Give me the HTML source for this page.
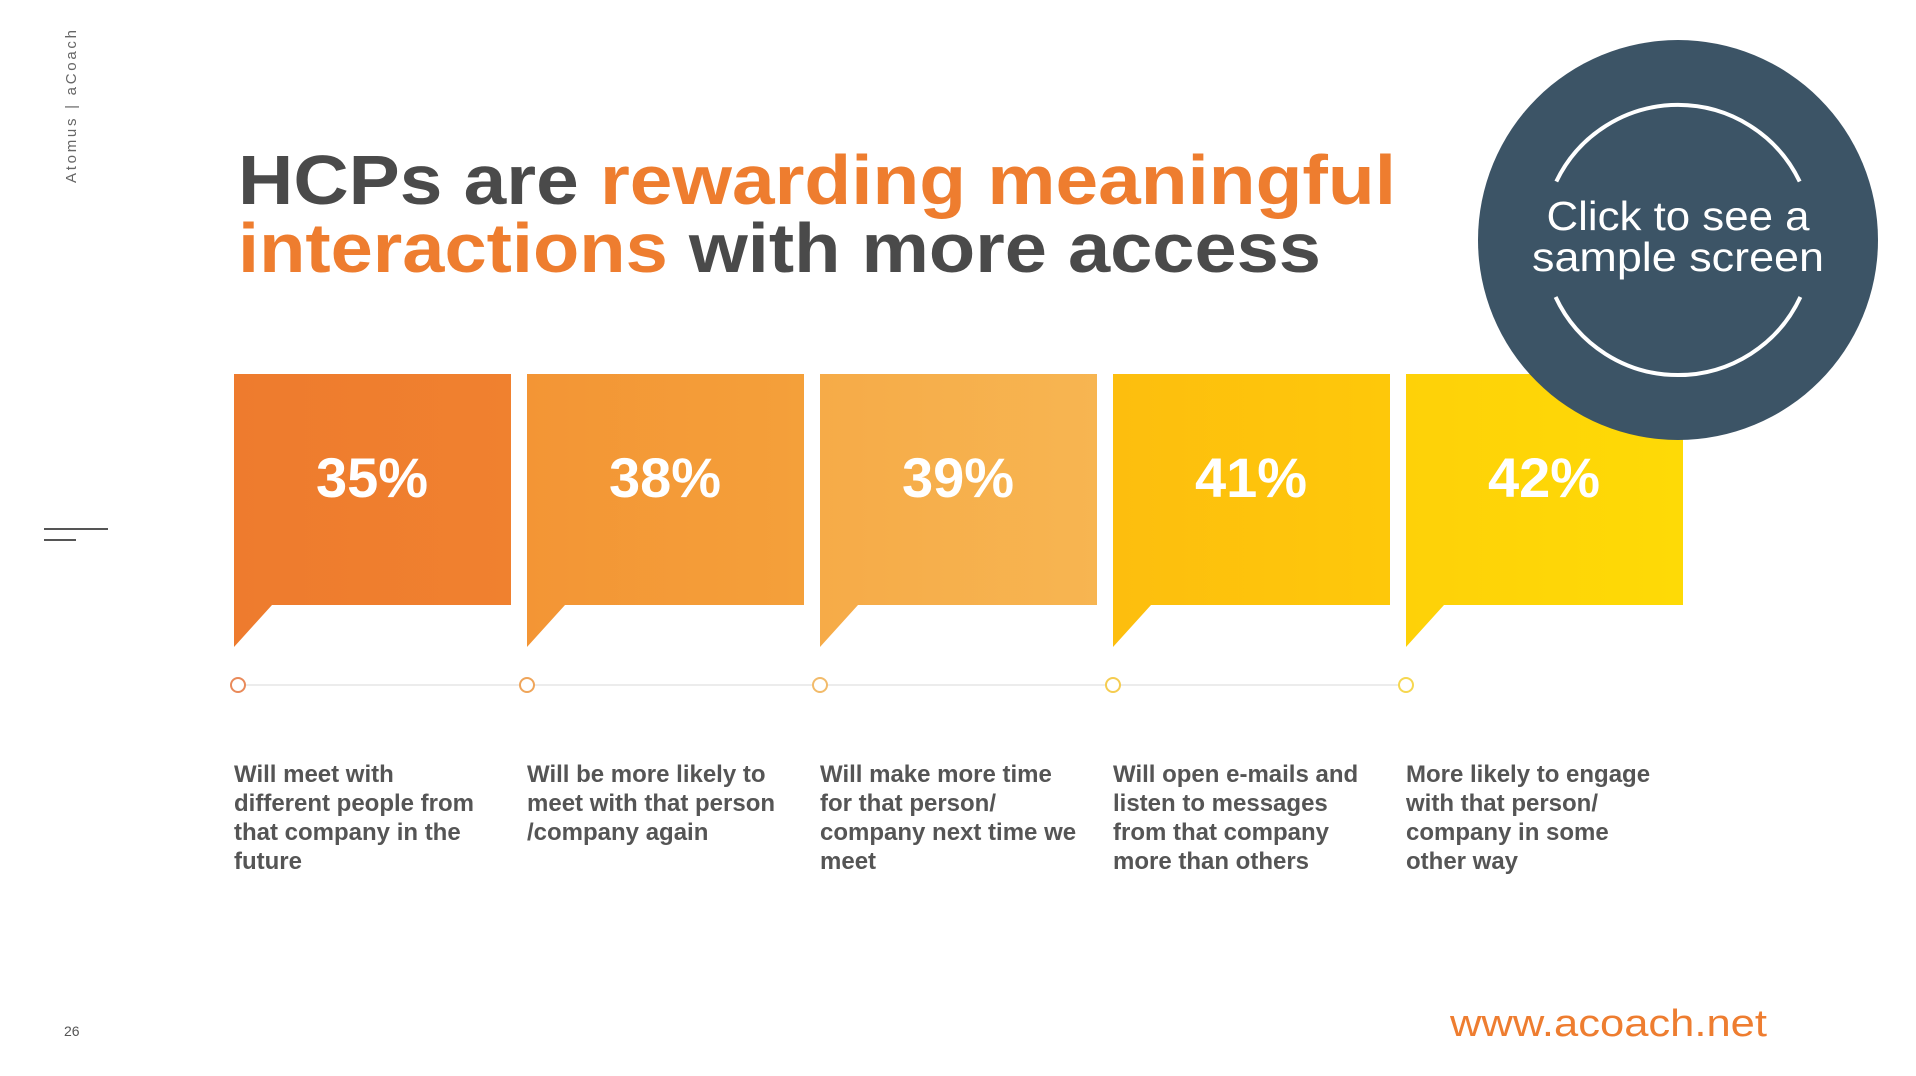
<!DOCTYPE html>
<html><head><meta charset="utf-8"><style>
html,body{margin:0;padding:0;background:#fff;width:1916px;height:1076px;overflow:hidden;}
svg{display:block;}
</style></head><body>
<svg width="1916" height="1076" viewBox="0 0 1916 1076" xmlns="http://www.w3.org/2000/svg" font-family="Liberation Sans, sans-serif">
<rect width="1916" height="1076" fill="#fff"/>
<text transform="translate(76,183) rotate(-90)" font-size="15" fill="#666" textLength="153">Atomus | aCoach</text>
<line x1="44" y1="529" x2="108" y2="529" stroke="#555" stroke-width="2"/>
<line x1="44" y1="540" x2="76" y2="540" stroke="#555" stroke-width="2"/>
<text x="64" y="1036" font-size="14" fill="#555">26</text>
<text x="238" y="204" font-size="70" font-weight="bold" textLength="1158" lengthAdjust="spacingAndGlyphs"><tspan fill="#4a4a4a">HCPs are </tspan><tspan fill="#EE7D2F">rewarding meaningful</tspan></text>
<text x="238" y="272" font-size="70" font-weight="bold" textLength="1083" lengthAdjust="spacingAndGlyphs"><tspan fill="#EE7D2F">interactions</tspan><tspan fill="#4a4a4a"> with more access</tspan></text>
<defs>
<linearGradient id="g1" x1="0" x2="1"><stop offset="0" stop-color="#EE7B2E"/><stop offset="1" stop-color="#F0812F"/></linearGradient>
<linearGradient id="g2" x1="0" x2="1"><stop offset="0" stop-color="#F39535"/><stop offset="1" stop-color="#F4A03A"/></linearGradient>
<linearGradient id="g3" x1="0" x2="1"><stop offset="0" stop-color="#F6AB48"/><stop offset="1" stop-color="#F7B551"/></linearGradient>
<linearGradient id="g4" x1="0" x2="1"><stop offset="0" stop-color="#FDBE0E"/><stop offset="1" stop-color="#FEC80A"/></linearGradient>
<linearGradient id="g5" x1="0" x2="1"><stop offset="0" stop-color="#FED108"/><stop offset="1" stop-color="#FEDA06"/></linearGradient>
</defs>
<g>
<path d="M234 374 H511 V605 H272 L234 647 Z" fill="url(#g1)"/>
<path d="M527 374 H804 V605 H565 L527 647 Z" fill="url(#g2)"/>
<path d="M820 374 H1097 V605 H858 L820 647 Z" fill="url(#g3)"/>
<path d="M1113 374 H1390 V605 H1151 L1113 647 Z" fill="url(#g4)"/>
<path d="M1406 374 H1683 V605 H1444 L1406 647 Z" fill="url(#g5)"/>
</g>
<g font-size="56" font-weight="bold" fill="#fff" text-anchor="middle">
<text x="372" y="497">35%</text>
<text x="665" y="497">38%</text>
<text x="958" y="497">39%</text>
<text x="1251" y="497">41%</text>
<text x="1544" y="497">42%</text>
</g>
<line x1="238" y1="685" x2="1405" y2="685" stroke="#ececec" stroke-width="2"/>
<g fill="#fff" stroke-width="2">
<circle cx="238" cy="685" r="7" stroke="#E98A5A"/>
<circle cx="527" cy="685" r="7" stroke="#EFA55A"/>
<circle cx="820" cy="685" r="7" stroke="#F2BB6A"/>
<circle cx="1113" cy="685" r="7" stroke="#F5CC50"/>
<circle cx="1406" cy="685" r="7" stroke="#F6D750"/>
</g>
<g font-size="24" font-weight="bold" fill="#555">
<text x="234" y="782">Will meet with</text>
<text x="234" y="811">different people from</text>
<text x="234" y="840">that company in the</text>
<text x="234" y="869">future</text>
<text x="527" y="782">Will be more likely to</text>
<text x="527" y="811">meet with that person</text>
<text x="527" y="840">/company again</text>
<text x="820" y="782">Will make more time</text>
<text x="820" y="811">for that person/</text>
<text x="820" y="840">company next time we</text>
<text x="820" y="869">meet</text>
<text x="1113" y="782">Will open e-mails and</text>
<text x="1113" y="811">listen to messages</text>
<text x="1113" y="840">from that company</text>
<text x="1113" y="869">more than others</text>
<text x="1406" y="782">More likely to engage</text>
<text x="1406" y="811">with that person/</text>
<text x="1406" y="840">company in some</text>
<text x="1406" y="869">other way</text>
</g>
<circle cx="1678" cy="240" r="200" fill="#3C5466"/>
<path d="M1556.3 181.5 A135 135 0 0 1 1799.7 181.5" fill="none" stroke="#fff" stroke-width="4"/>
<path d="M1555.6 297 A135 135 0 0 0 1800.4 297" fill="none" stroke="#fff" stroke-width="4"/>
<g fill="#fff" font-size="41" text-anchor="middle">
<text x="1678" y="230" textLength="263" lengthAdjust="spacingAndGlyphs">Click to see a</text>
<text x="1678" y="271" textLength="292" lengthAdjust="spacingAndGlyphs">sample screen</text>
</g>
<text x="1450" y="1036" font-size="38" fill="#EE7D30" textLength="317" lengthAdjust="spacingAndGlyphs">www.acoach.net</text>
</svg>
</body></html>
